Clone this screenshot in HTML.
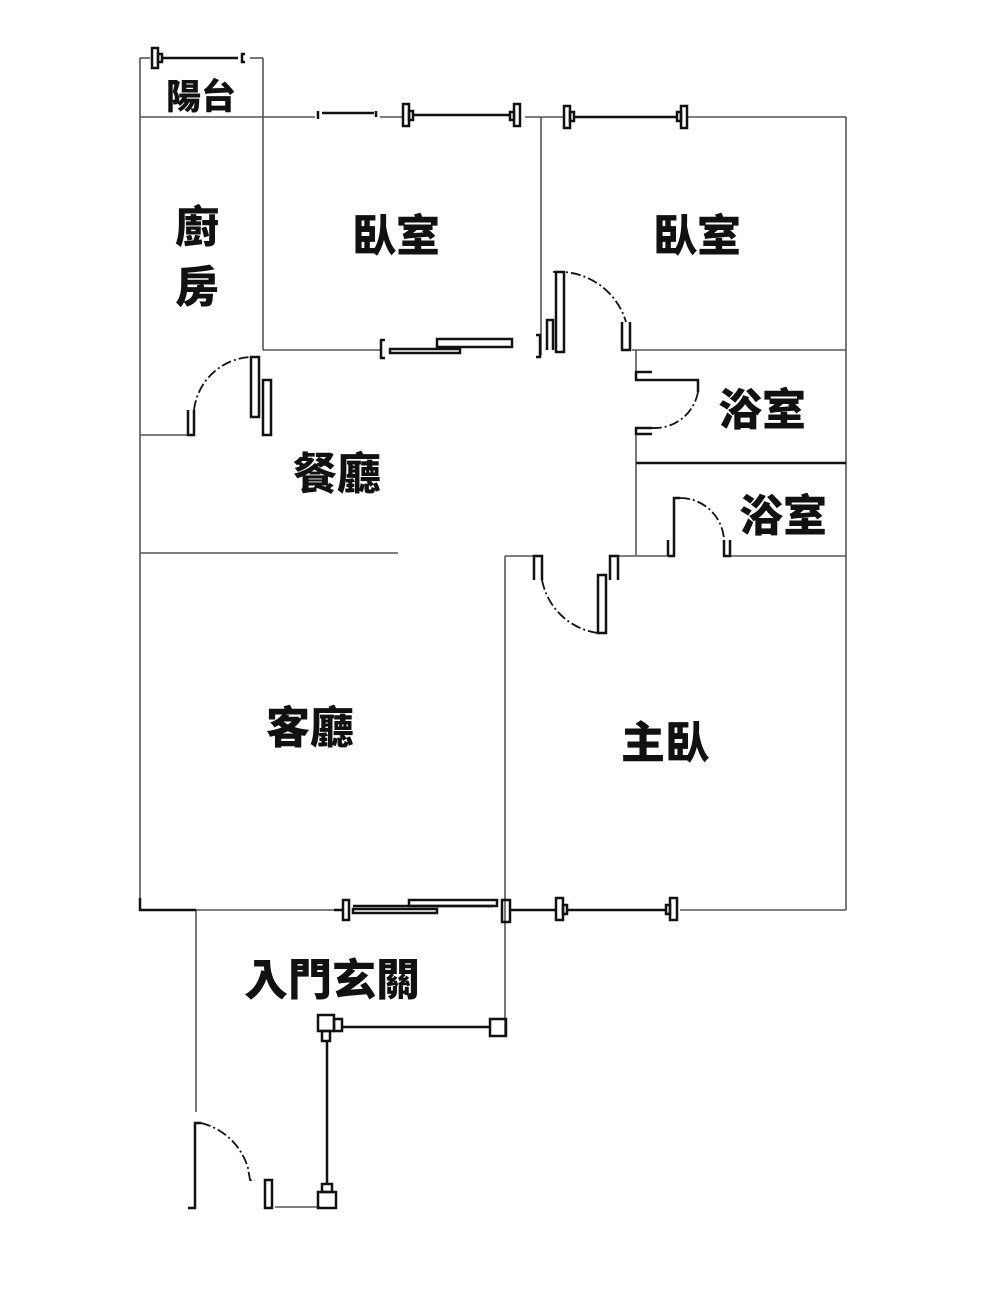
<!DOCTYPE html>
<html><head><meta charset="utf-8"><style>
html,body{margin:0;padding:0;background:#fff;}
svg{display:block;}
text{font-family:"Liberation Sans","Noto Sans CJK TC",sans-serif;font-weight:900;fill:#111;}
</style></head><body>
<svg width="1000" height="1309" viewBox="0 0 1000 1309" xmlns="http://www.w3.org/2000/svg">
<g fill="none" stroke="#555" stroke-width="1.6">
  <line x1="140" y1="58" x2="140" y2="910"/>
  <line x1="140" y1="58" x2="150" y2="58"/>
  <line x1="250" y1="58" x2="263" y2="58"/>
  <line x1="263" y1="58" x2="263" y2="350"/>
  <line x1="140" y1="117" x2="315" y2="117"/>
  <line x1="380" y1="117" x2="403" y2="117"/>
  <line x1="525" y1="117" x2="565" y2="117"/>
  <line x1="688" y1="117" x2="846" y2="117"/>
  <line x1="846" y1="117" x2="846" y2="910"/>
  <line x1="541" y1="117" x2="541" y2="355"/>
  <line x1="263" y1="350" x2="380" y2="350"/>
  <line x1="632" y1="350" x2="846" y2="350"/>
  <line x1="140" y1="435" x2="190" y2="435"/>
  <line x1="636" y1="350" x2="636" y2="378"/>
  <line x1="636" y1="432" x2="636" y2="555"/>
  <line x1="140" y1="553" x2="398" y2="553"/>
  <line x1="505" y1="556" x2="535" y2="556"/>
  <line x1="618" y1="556" x2="670" y2="556"/>
  <line x1="730" y1="556" x2="846" y2="556"/>
  <line x1="505" y1="556" x2="505" y2="1035"/>
  <line x1="196" y1="910" x2="340" y2="910"/>
  <line x1="512" y1="910" x2="556" y2="910"/>
  <line x1="680" y1="910" x2="846" y2="910"/>
  <line x1="196" y1="910" x2="196" y2="1112"/>
  <line x1="275" y1="1207" x2="320" y2="1207"/>
</g>
<g fill="none" stroke="#111" stroke-width="2.5">
  <line x1="636" y1="463" x2="846" y2="463"/>
  <polyline points="140,898 140,910 196,910"/>
  <rect x="152" y="48" width="6" height="20"/><rect x="158" y="54" width="4" height="8"/>
  <line x1="162" y1="58" x2="238" y2="58"/>
  <path d="M245,54 h-3 v8 h3"/>
  <path d="M318,111 v8 M322,113 h52 M376,111 v6"/>
  <rect x="403" y="104" width="6" height="22"/><rect x="409" y="111" width="4" height="9"/>
  <line x1="413" y1="115" x2="510" y2="115"/>
  <rect x="510" y="112" width="4" height="8"/><rect x="514" y="104" width="6" height="22"/>
  <rect x="564" y="106" width="6" height="22"/><rect x="570" y="112" width="4" height="9"/>
  <line x1="574" y1="117" x2="677" y2="117"/>
  <rect x="677" y="112" width="4" height="9"/><rect x="681" y="106" width="6" height="22"/>
  <path d="M385,340 h-4 v18 h4"/>
  <rect x="437" y="339" width="75" height="8"/>
  <rect x="390" y="349" width="70" height="4"/>
  <path d="M536,335 h4 v22 h-4"/>
  <path d="M547,350 v-30 h6 v30"/>
  <rect x="556" y="272" width="8" height="80"/>
  <path d="M622,322 v28 h8 v-28"/>
  <path d="M188,410 v25 h6 v-25"/>
  <rect x="251" y="357" width="8" height="60"/>
  <rect x="263" y="380" width="8" height="55"/>
  <path d="M652,372 h-16 v8 h62 v12"/>
  <path d="M652,434 h-16 v-6 h16"/>
  <path d="M668,556 h6 v-58 h6"/>
  <path d="M668,540 v16"/><path d="M724,540 v16 h6 v-16"/>
  <path d="M534,580 v-24 h8 v24"/>
  <rect x="598" y="575" width="8" height="58"/>
  <path d="M610,580 v-24 h8 v24"/>
  <rect x="343" y="900" width="6" height="20"/>
  <line x1="334" y1="910" x2="343" y2="910"/>
  <rect x="353" y="909" width="84" height="4"/>
  <rect x="409" y="900" width="88" height="6"/>
  <line x1="353" y1="906" x2="493" y2="906"/>
  <rect x="502" y="900" width="8" height="22"/>
  <line x1="510" y1="910" x2="556" y2="910"/>
  <rect x="556" y="898" width="7" height="22"/><rect x="563" y="905" width="4" height="9"/>
  <line x1="567" y1="910" x2="666" y2="910"/>
  <rect x="666" y="905" width="4" height="9"/><rect x="670" y="898" width="7" height="22"/>
  <rect x="318" y="1015" width="16" height="16"/>
  <rect x="334" y="1019" width="8" height="12"/>
  <rect x="322" y="1031" width="8" height="10"/>
  <line x1="342" y1="1027" x2="490" y2="1027"/>
  <rect x="490" y="1019" width="16" height="17"/>
  <line x1="327" y1="1041" x2="327" y2="1184"/>
  <rect x="322" y="1184" width="10" height="8"/>
  <rect x="318" y="1192" width="18" height="16"/>
  <path d="M188,1208 h7 v-85 h6"/>
  <rect x="265" y="1180" width="7" height="28"/>
</g>
<g fill="none" stroke="#111" stroke-width="1.8" stroke-dasharray="10,3,2,3">
  <path d="M553,272 A70,70 0 0 1 626,322"/>
  <path d="M194,410 A60,60 0 0 1 251,357"/>
  <path d="M698,392 A44,44 0 0 1 652,428"/>
  <path d="M680,498 A44,44 0 0 1 724,540"/>
  <path d="M542,580 A66,66 0 0 0 598,633"/>
  <path d="M201,1123 A65,65 0 0 1 248,1168 L250,1180 L255,1180"/>
</g>
<text x="201" y="109" font-size="35" text-anchor="middle">陽台</text>
<text x="197" y="242" font-size="44" text-anchor="middle">廚</text>
<text x="197" y="302" font-size="44" text-anchor="middle">房</text>
<text x="396" y="251" font-size="44" text-anchor="middle">臥室</text>
<text x="697" y="251" font-size="44" text-anchor="middle">臥室</text>
<text x="762" y="425" font-size="44" text-anchor="middle">浴室</text>
<text x="783" y="531" font-size="44" text-anchor="middle">浴室</text>
<text x="337" y="489" font-size="44" text-anchor="middle">餐廳</text>
<text x="310" y="743" font-size="44" text-anchor="middle">客廳</text>
<text x="665" y="758" font-size="44" text-anchor="middle">主臥</text>
<text x="332" y="995" font-size="44" text-anchor="middle">入門玄關</text>
</svg>
</body></html>
